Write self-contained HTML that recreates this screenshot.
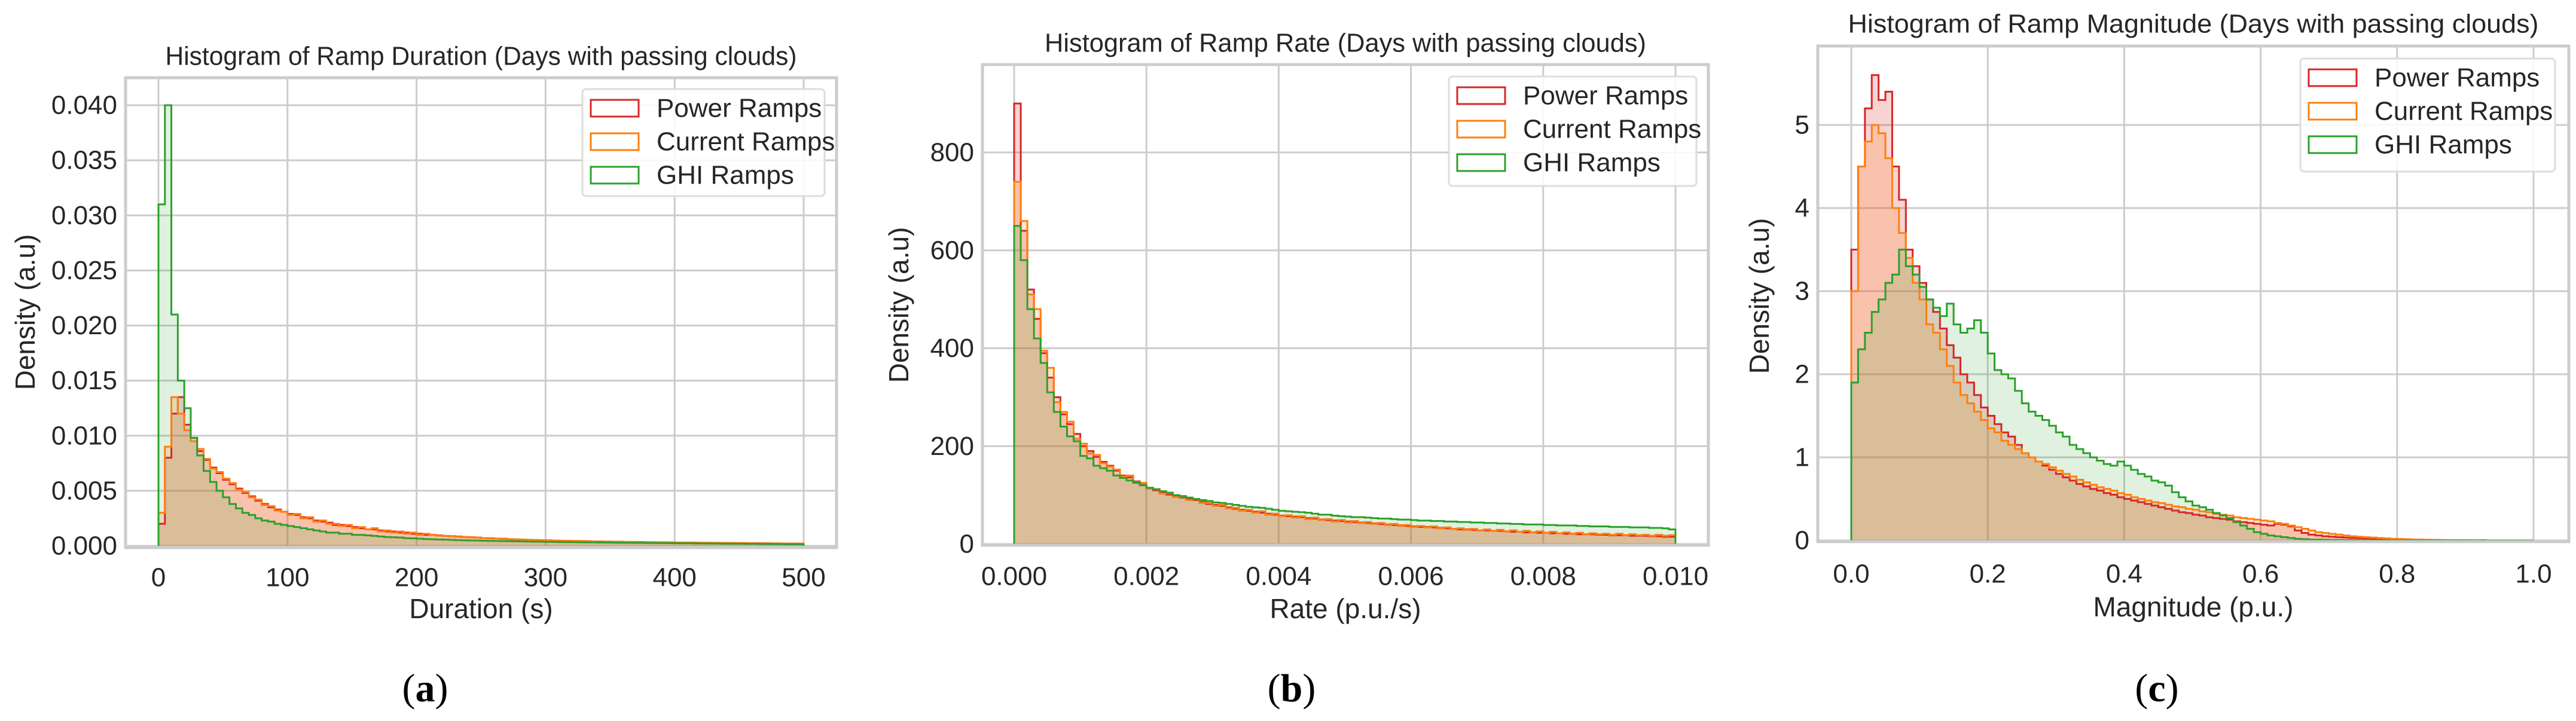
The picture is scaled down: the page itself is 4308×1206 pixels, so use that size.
<!DOCTYPE html>
<html><head><meta charset="utf-8">
<style>
html,body{margin:0;padding:0;background:#fff;}
svg{display:block;font-family:"Liberation Sans",Arial,sans-serif;}
</style></head>
<body>
<svg id="root" width="4308" height="1206" viewBox="0 0 4308 1206" xmlns="http://www.w3.org/2000/svg"></svg>
<script>
// ---------- Panel A data (Duration, 100 bins 0..500) ----------
const aPower = [0.002,0.008,0.012,0.0135,0.011,0.0098,0.0086,0.0078,0.0071,0.0066,0.006,0.0056,0.0052,0.0048,0.0045,0.0041,0.0038,0.0035,0.0033,0.0031,0.0029,0.0028,0.0026,0.0025,0.0023,0.0022,0.0021,0.0019,0.0019,0.0018,0.0017,0.0016,0.0015,0.0015,0.0014,0.0013,0.0013,0.0012,0.0012,0.0011,0.0011,0.001,0.001,0.00095,0.0009,0.00088,0.00085,0.0008,0.00078,0.00075,0.0007,0.00068,0.00066,0.00064,0.0006,0.00058,0.00056,0.00055,0.00053,0.0005,0.0005,0.00048,0.00047,0.00045,0.00044,0.00043,0.00042,0.0004,0.0004,0.00039,0.00038,0.00037,0.00036,0.00035,0.00035,0.00034,0.00033,0.00032,0.00032,0.00031,0.0003,0.0003,0.00029,0.00028,0.00028,0.00027,0.00027,0.00026,0.00026,0.00025,0.00025,0.00024,0.00024,0.00023,0.00023,0.00022,0.00022,0.00021,0.00021,0.0002];
const aCurrent = [0.003,0.009,0.0135,0.012,0.0105,0.0095,0.0088,0.0079,0.007,0.0067,0.0061,0.0057,0.0051,0.0049,0.0044,0.0042,0.0037,0.0036,0.0032,0.0031,0.0028,0.0029,0.0025,0.0026,0.0022,0.0023,0.002,0.002,0.0018,0.0019,0.0016,0.0017,0.0015,0.0016,0.0013,0.0014,0.0012,0.0013,0.0011,0.0012,0.001,0.0011,0.00098,0.00092,0.0009,0.00086,0.00082,0.0008,0.00076,0.00074,0.0007,0.0007,0.00065,0.00066,0.00061,0.00059,0.00057,0.00054,0.00052,0.00051,0.00049,0.00049,0.00046,0.00046,0.00043,0.00044,0.0004,0.00041,0.00039,0.00039,0.00037,0.00037,0.00035,0.00036,0.00034,0.00034,0.00032,0.00033,0.00031,0.00031,0.0003,0.0003,0.00028,0.00029,0.00027,0.00028,0.00026,0.00027,0.00025,0.00026,0.00024,0.00025,0.00023,0.00024,0.00022,0.00023,0.00021,0.00022,0.0002,0.00021];
const aGhi = [0.031,0.04,0.021,0.015,0.0125,0.0098,0.0082,0.0068,0.0058,0.005,0.0044,0.0038,0.0034,0.003,0.0028,0.0025,0.0023,0.0022,0.002,0.0019,0.0018,0.0017,0.0016,0.0015,0.0014,0.0013,0.0012,0.0012,0.0011,0.0011,0.001,0.001,0.00095,0.0009,0.00085,0.0008,0.00078,0.00075,0.0007,0.00068,0.00065,0.00062,0.0006,0.00058,0.00056,0.00054,0.00052,0.0005,0.00049,0.00048,0.00046,0.00045,0.00044,0.00043,0.00042,0.00041,0.0004,0.00039,0.00038,0.00037,0.00036,0.00035,0.00034,0.00034,0.00033,0.00032,0.00031,0.00031,0.0003,0.0003,0.00029,0.00028,0.00028,0.00027,0.00027,0.00026,0.00026,0.00025,0.00025,0.00024,0.00024,0.00023,0.00023,0.00022,0.00022,0.00021,0.00021,0.0002,0.0002,0.00019,0.00019,0.00018,0.00018,0.00017,0.00017,0.00016,0.00016,0.00015,0.00015,0.00014];
const aXTicks = [0,100,200,300,400,500];
const aYTicks = [0,0.005,0.01,0.015,0.02,0.025,0.03,0.035,0.04];
const aYLabels = ["0.000","0.005","0.010","0.015","0.020","0.025","0.030","0.035","0.040"];
const aXLabels = ["0","100","200","300","400","500"];

// ---------- Panel B data (Rate, 100 bins 0..0.01) ----------
const bPower = [900,640,520,460,390,340,300,265,245,225,200,190,178,168,160,150,140,136,128,121,115,110,105,101,98,95,92,90,86,82,80,78,75,72,70,68,66,64,62,60,58,57,56,55,53,52,50,49,48,47,46,45,44,43,42,41,40,39,38,37,36,35,35,34,33,32,31,30,30,29,28,28,27,27,26,25,25,24,24,23,23,22,22,21,21,20,20,20,19,19,18,18,18,17,17,17,16,16,15,15];
const bCurrent = [740,660,510,480,395,360,290,270,250,215,205,185,182,165,158,152,138,140,126,125,113,112,103,104,96,97,90,92,84,84,78,80,73,74,68,70,64,67,60,62,57,59,54,57,51,54,49,51,46,49,44,47,43,45,41,43,39,41,37,39,35,37,34,36,32,34,31,32,29,31,28,30,27,29,26,28,25,27,24,26,23,25,22,24,21,23,20,22,20,21,19,21,18,20,18,19,17,19,17,18];
const bGhi = [650,580,480,420,370,310,270,240,220,210,180,175,160,155,150,140,135,130,125,120,115,112,108,105,100,98,95,92,90,88,85,84,82,80,78,76,75,74,72,70,68,67,66,65,64,62,60,60,58,57,56,55,55,54,53,52,52,51,50,50,49,48,48,47,47,46,46,45,45,44,44,43,43,42,42,41,41,40,40,40,39,39,38,38,38,37,37,36,36,36,35,35,35,34,34,34,33,33,32,30];
const bXTicks = [0,0.002,0.004,0.006,0.008,0.01];
const bXLabels = ["0.000","0.002","0.004","0.006","0.008","0.010"];
const bYTicks = [0,200,400,600,800];
const bYLabels = ["0","200","400","600","800"];

// ---------- Panel C data (Magnitude, 100 bins 0..1) ----------
const cPower = [3.5,4.5,5.2,5.6,5.3,5.4,4.5,4.1,3.5,3.3,3.1,2.9,2.75,2.55,2.35,2.2,2.0,1.9,1.75,1.6,1.5,1.4,1.3,1.25,1.15,1.05,1.0,0.95,0.9,0.85,0.8,0.76,0.72,0.68,0.65,0.62,0.6,0.57,0.55,0.52,0.5,0.48,0.46,0.44,0.42,0.4,0.38,0.36,0.34,0.33,0.31,0.3,0.28,0.27,0.26,0.25,0.23,0.22,0.21,0.2,0.19,0.18,0.2,0.19,0.17,0.12,0.09,0.07,0.06,0.05,0.045,0.04,0.035,0.03,0.028,0.025,0.022,0.02,0.018,0.016,0.014,0.012,0.01,0.008,0.006,0.005,0.004,0.003,0.002,0.002,0.001,0.001,0.001,0,0,0,0,0,0,0];
const cCurrent = [3.0,4.5,4.8,5.0,4.9,4.6,4.0,3.7,3.4,3.1,2.9,2.6,2.5,2.3,2.1,1.9,1.75,1.65,1.55,1.45,1.35,1.3,1.2,1.15,1.1,1.05,1.0,0.95,0.92,0.88,0.84,0.8,0.77,0.73,0.7,0.67,0.64,0.62,0.6,0.57,0.55,0.52,0.5,0.48,0.46,0.45,0.43,0.41,0.4,0.38,0.37,0.35,0.34,0.32,0.31,0.3,0.28,0.27,0.26,0.25,0.24,0.23,0.21,0.2,0.18,0.16,0.14,0.12,0.1,0.09,0.08,0.07,0.06,0.05,0.045,0.04,0.035,0.03,0.025,0.02,0.018,0.015,0.012,0.01,0.008,0.006,0.005,0.004,0.003,0.002,0.002,0.001,0.001,0,0,0,0,0,0,0];
const cGhi = [1.9,2.3,2.5,2.75,2.9,3.1,3.2,3.5,3.3,3.2,3.05,2.9,2.8,2.7,2.85,2.6,2.5,2.55,2.65,2.5,2.25,2.05,2.0,1.95,1.8,1.65,1.55,1.5,1.45,1.38,1.3,1.25,1.15,1.1,1.05,1.0,0.96,0.92,0.9,0.95,0.9,0.85,0.8,0.77,0.72,0.7,0.66,0.58,0.52,0.47,0.42,0.4,0.37,0.33,0.3,0.27,0.22,0.18,0.14,0.1,0.08,0.06,0.05,0.04,0.03,0.02,0.015,0.01,0.01,0.008,0.006,0.005,0.004,0.003,0.003,0.002,0.002,0.001,0.001,0.001,0,0,0,0,0,0,0,0,0,0,0,0,0.002,0,0,0,0,0,0,0];
const cXTicks = [0,0.2,0.4,0.6,0.8,1.0];
const cXLabels = ["0.0","0.2","0.4","0.6","0.8","1.0"];
const cYTicks = [0,1,2,3,4,5];
const cYLabels = ["0","1","2","3","4","5"];

const seriesNames = ["Power Ramps","Current Ramps","GHI Ramps"];
const NS = "http://www.w3.org/2000/svg";
const root = document.getElementById('root');
const COLORS = ["#d62728","#ff7f0e","#2ca02c"];
const FILLS = ["rgba(214,39,40,0.2)","rgba(255,127,14,0.2)","rgba(44,160,44,0.15)"];

function mk(tag, attrs, parent){
  const e = document.createElementNS(NS, tag);
  for (const k in attrs) e.setAttribute(k, attrs[k]);
  (parent||root).appendChild(e);
  return e;
}

function panel(cfg){
  const g = mk('g', {});
  
  
  const L=cfg.box[0], T=cfg.box[1], R=cfg.box[2], B=cfg.box[3];
  const xs = v => cfg.px0 + (v - cfg.d0) / (cfg.d1 - cfg.d0) * (cfg.px1 - cfg.px0);
  const ys = v => cfg.py0 + (v - 0) / (cfg.yref) * (cfg.pyref - cfg.py0);
  cfg.xticks.forEach((t,i)=>{
    const ln = mk('line',{x1:xs(t),x2:xs(t),y1:T,y2:B,stroke:'#cccccc','stroke-width':3},g);
    
    
    const tx = mk('text',{x:xs(t),y:cfg.xtickY,'font-size':44,'text-anchor':'middle','dominant-baseline':'central',fill:'#262626'},g);
    tx.textContent = cfg.xlabels[i];
    
    
  });
  cfg.yticks.forEach((t,i)=>{
    const ln = mk('line',{x1:L,x2:R,y1:ys(t),y2:ys(t),stroke:'#cccccc','stroke-width':3},g);
    
    
    const tx = mk('text',{x:L-14,y:ys(t),'font-size':44,'text-anchor':'end','dominant-baseline':'central',fill:'#262626'},g);
    tx.textContent = cfg.ylabels[i];
    
    
  });
  const bw = (cfg.d1 - cfg.d0) / cfg.series[0].length;
  cfg.series.forEach((vals,si)=>{
    let d = `M${xs(cfg.d0)},${ys(0)}`;
    vals.forEach((v,i)=>{ d += ` V${ys(v)} H${xs(cfg.d0 + (i+1)*bw)}`; });
    d += ` V${ys(0)}`;
    const f = mk('path',{d:d+' Z',fill:FILLS[si],stroke:'none'},g);
    
    
  });
  cfg.series.forEach((vals,si)=>{
    let d = `M${xs(cfg.d0)},${ys(0)}`;
    vals.forEach((v,i)=>{ d += ` V${ys(v)} H${xs(cfg.d0 + (i+1)*bw)}`; });
    d += ` V${ys(0)}`;
    const p = mk('path',{d:d,fill:'none',stroke:COLORS[si],'stroke-width':3},g);
    
    
  });
  const fr = mk('rect',{x:L,y:T,width:R-L,height:B-T,fill:'none',stroke:'#cccccc','stroke-width':5},g);
  
  
  const ti = mk('text',{x:(L+R)/2,y:cfg.titleY,'font-size':44,'text-anchor':'middle','dominant-baseline':'central',fill:'#262626',textLength:cfg.titleLen,lengthAdjust:'spacingAndGlyphs'},g);
  ti.textContent = cfg.title;
  
  
  const xl = mk('text',{x:(L+R)/2,y:cfg.xlabelY,'font-size':46,'text-anchor':'middle','dominant-baseline':'central',fill:'#262626'},g);
  xl.textContent = cfg.xlabel;
  
  
  const yl = mk('text',{x:0,y:0,'font-size':46,'text-anchor':'middle','dominant-baseline':'central',fill:'#262626',transform:`translate(${cfg.ylabelX},${cfg.ylabelY}) rotate(-90)`},g);
  yl.textContent = 'Density (a.u)';
  
  
  const lg = mk('g',{},g);
  
  
  const [lx,ly,lw,lh] = cfg.legend;
  mk('rect',{x:lx,y:ly,width:lw,height:lh,rx:6,fill:'rgba(255,255,255,0.85)',stroke:'#dddddd','stroke-width':3},lg);
  seriesNames.forEach((n,i)=>{
    const cy = ly + 32 + i*56;
    const sw = mk('rect',{x:lx+14,y:cy-14,width:80,height:28,fill:'#ffffff',stroke:COLORS[i],'stroke-width':3},lg);
    
    
    const t = mk('text',{x:lx+124,y:cy,'font-size':44,'dominant-baseline':'central',fill:'#262626'},lg);
    t.textContent = n;
    
    
  });
  const sl = mk('text',{x:cfg.subX,y:1151,'font-size':66,'text-anchor':'middle','dominant-baseline':'central',fill:'#000','font-family':'"Liberation Serif",serif'},g);
  sl.innerHTML = '(<tspan font-weight="bold">'+cfg.sub+'</tspan>)';
  
  
}

panel({name:'duration-histogram',box:[210,130,1399,916],d0:0,d1:500,px0:265,px1:1344,py0:913,yref:0.04,pyref:176,
  series:[aPower,aCurrent,aGhi],xticks:aXTicks,xlabels:aXLabels,yticks:aYTicks,ylabels:aYLabels,
  xtickY:966,xlabelY:1018,ylabelX:42,ylabelY:522,titleY:94,titleLen:1056,
  title:'Histogram of Ramp Duration (Days with passing clouds)',xlabel:'Duration (s)',
  legend:[974,149,405,179],subX:711,sub:'a'});
panel({name:'rate-histogram',box:[1643,108,2857,912],d0:0,d1:0.01,px0:1696,px1:2802,py0:910,yref:800,pyref:255,
  series:[bPower,bCurrent,bGhi],xticks:bXTicks,xlabels:bXLabels,yticks:bYTicks,ylabels:bYLabels,
  xtickY:964,xlabelY:1018,ylabelX:1503,ylabelY:510,titleY:72,titleLen:1006,
  title:'Histogram of Ramp Rate (Days with passing clouds)',xlabel:'Rate (p.u./s)',
  legend:[2423,128,414,183],subX:2160,sub:'b'});
panel({name:'magnitude-histogram',box:[3040,77,4296,906],d0:0,d1:1,px0:3096,px1:4237,py0:904,yref:5,pyref:209,
  series:[cPower,cCurrent,cGhi],xticks:cXTicks,xlabels:cXLabels,yticks:cYTicks,ylabels:cYLabels,
  xtickY:960,xlabelY:1015,ylabelX:2942,ylabelY:495,titleY:40,titleLen:1155,
  title:'Histogram of Ramp Magnitude (Days with passing clouds)',xlabel:'Magnitude (p.u.)',
  legend:[3847,98,426,189],subX:3607,sub:'c'});
</script>
</body></html>
